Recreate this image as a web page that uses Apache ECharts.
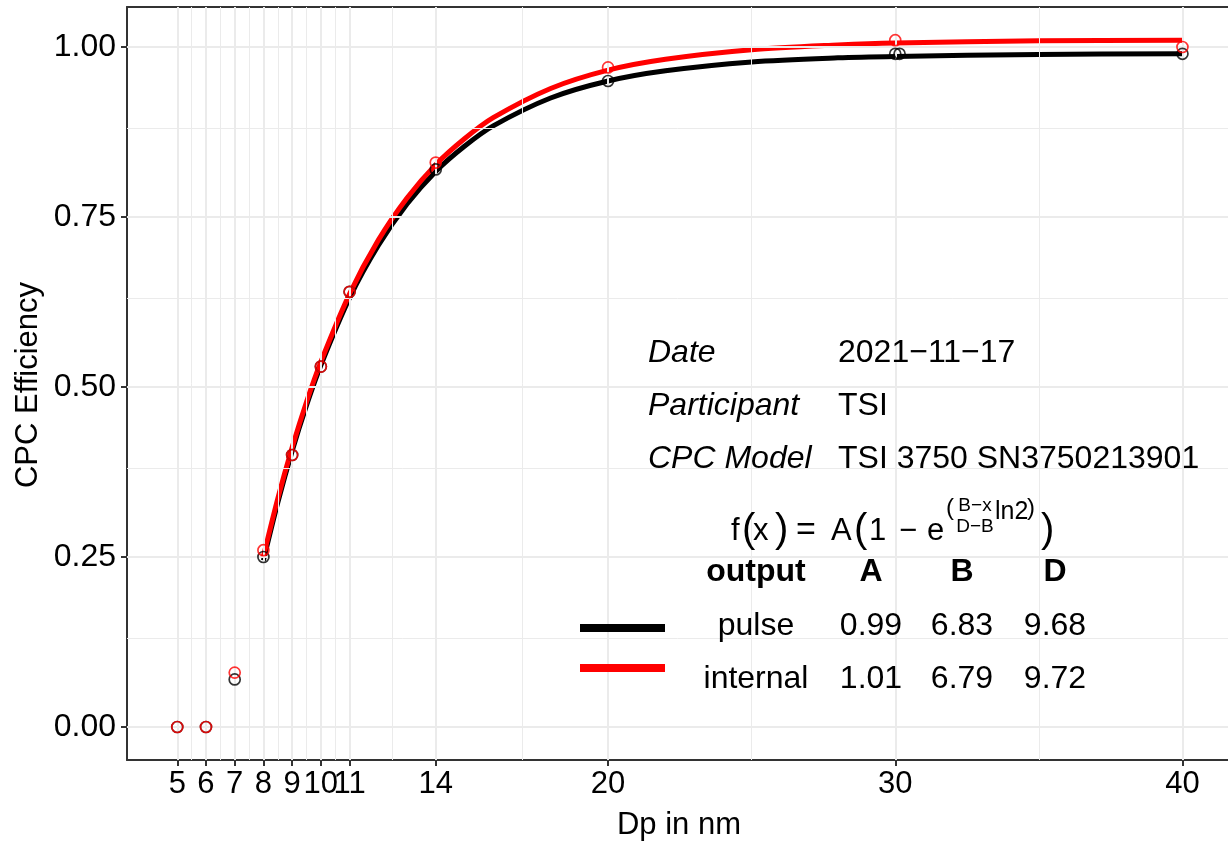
<!DOCTYPE html>
<html>
<head>
<meta charset="utf-8">
<script src="https://cdn.jsdelivr.net/npm/echarts@6/dist/echarts.min.js"></script>
<style>html,body{margin:0;padding:0;background:#fff}#c{width:1228px;height:844px}</style>
</head>
<body>
<div id="c"></div>
<script>
// ---- data ----
const pulseX = [5, 6, 7, 8, 9, 10, 11, 14, 20, 30, 30.15, 40];
const pulseY = [0, 0, 0.07, 0.25, 0.40, 0.53, 0.64, 0.82, 0.95, 0.99, 0.99, 0.99];
const internalX = [5, 6, 7, 8, 9, 10, 11, 14, 20, 30, 40];
const internalY = [0, 0, 0.08, 0.26, 0.40, 0.53, 0.64, 0.83, 0.97, 1.01, 1.00];
const fitX = [8, 8.5, 9, 9.5, 10, 11, 12, 13, 14, 15, 16, 18, 20, 22, 25, 28, 30, 35, 40];
const fitPulse = [0.245, 0.330, 0.406, 0.473, 0.532, 0.631, 0.708, 0.769, 0.817, 0.854, 0.884, 0.925, 0.950, 0.965, 0.978, 0.984, 0.986, 0.989, 0.990];
const fitInternal = [0.251, 0.336, 0.411, 0.478, 0.537, 0.637, 0.716, 0.778, 0.827, 0.865, 0.896, 0.939, 0.966, 0.982, 0.996, 1.003, 1.006, 1.009, 1.010];
const xTicks = [5, 6, 7, 8, 9, 10, 11, 14, 20, 30, 40];
const xMinor = [5.5, 6.5, 7.5, 8.5, 9.5, 10.5, 12.5, 17, 25, 35];
const yTicks = [0, 0.25, 0.5, 0.75, 1.0];
const yMinor = [0.125, 0.375, 0.625, 0.875];
const infoLabels = ['Date', 'Participant', 'CPC Model'];
const infoValues = ['2021\u221211\u221217', 'TSI', 'TSI 3750 SN3750213901'];
const tableHeader = ['output', 'A', 'B', 'D'];
const tableRows = [['pulse', '0.99', '6.83', '9.68'], ['internal', '1.01', '6.79', '9.72']];
const rowColors = ['#000000', '#FF0000'];

const FONT = "'Liberation Sans', Arial, Helvetica, sans-serif";
const zip = (a, b) => a.map((v, i) => [v, b[i]]);
const X_MIN = 3.25, X_MAX = 41.586, Y_MIN = -0.0485, Y_MAX = 1.0588;

const chart = echarts.init(document.getElementById('c'), null, {renderer: 'canvas'});

const gridLines = [];
xTicks.forEach(v => gridLines.push({xAxis: v, lineStyle: {width: 2}}));
xMinor.forEach(v => gridLines.push({xAxis: v, lineStyle: {width: 1}}));
yTicks.forEach(v => gridLines.push({yAxis: v, lineStyle: {width: 2}}));
yMinor.forEach(v => gridLines.push({yAxis: v, lineStyle: {width: 1}}));

function txt(x, y, text, size, opts) {
  opts = opts || {};
  const align = opts.align || 'left';
  return {
    type: 'text', x: x, y: y, rotation: opts.rotation || 0, z: 100, silent: true,
    style: {
      text: text, x: 0, y: 0,
      font: (opts.style || 'normal') + ' ' + (opts.weight || 'normal') + ' ' + size + 'px ' + FONT,
      fill: '#000', align: align, verticalAlign: 'middle',
      textAlign: align, textVerticalAlign: 'middle'
    }
  };
}

const graphics = [];
// axis titles
graphics.push(txt(679, 825, 'Dp in nm', 31, {align: 'center'}));
graphics.push(txt(28, 385, 'CPC Efficiency', 31, {align: 'center', rotation: Math.PI / 2}));
// info block
const infoY = [353, 406, 459];
infoLabels.forEach((l, i) => {
  graphics.push(txt(648, infoY[i], l, 32, {style: 'italic'}));
  graphics.push(txt(838, infoY[i], infoValues[i], 32));
});
// formula
const fy = 531;
graphics.push(txt(731, fy, 'f', 31));
graphics.push(txt(742, fy, '(', 40));
graphics.push(txt(753, fy, 'x', 31));
graphics.push(txt(775, fy, ')', 40));
graphics.push(txt(796, fy, '=', 34));
graphics.push(txt(831, fy, 'A', 31));
graphics.push(txt(854, fy, '(', 40));
graphics.push(txt(869, fy, '1', 31));
graphics.push(txt(899, fy, '\u2212', 31));
graphics.push(txt(927, fy, 'e', 31));
graphics.push(txt(946, 508, '(', 24));
graphics.push(txt(975, 506, 'B\u2212x', 19, {align: 'center'}));
graphics.push(txt(975, 527, 'D\u2212B', 19, {align: 'center'}));
graphics.push(txt(995, 512, 'ln2', 25));
graphics.push(txt(1027, 508, ')', 24));
graphics.push(txt(1041, fy, ')', 40));
// table
const colX = [756, 871, 962, 1055];
tableHeader.forEach((h, i) => graphics.push(txt(colX[i], 572, h, 32, {align: 'center', weight: 'bold'})));
const rowY = [626, 679];
tableRows.forEach((r, j) => {
  r.forEach((c, i) => graphics.push(txt(colX[i], rowY[j], c, 32, {align: 'center'})));
});
const keyY = [628, 668];
rowColors.forEach((col, j) => {
  graphics.push({type: 'line', z: 100, silent: true,
    shape: {x1: 580, y1: keyY[j], x2: 665, y2: keyY[j]},
    style: {stroke: col, lineWidth: 8}});
});

const axisLineStyle = {color: '#333333', width: 2};
const option = {
  animation: false,
  backgroundColor: '#ffffff',
  grid: {left: 127, top: 7, right: 0, height: 753, show: false, containLabel: false},
  xAxis: [{
    type: 'value', min: X_MIN, max: X_MAX, position: 'bottom',
    axisLine: {show: true, onZero: false, lineStyle: axisLineStyle},
    splitLine: {show: false},
    axisTick: {show: true, customValues: xTicks, length: 6, inside: false, lineStyle: axisLineStyle},
    axisLabel: {show: true, customValues: xTicks, margin: 9, color: '#000', fontSize: 31, fontFamily: FONT, formatter: v => String(v)}
  }, {
    type: 'value', min: X_MIN, max: X_MAX, position: 'top',
    axisLine: {show: true, onZero: false, lineStyle: axisLineStyle},
    splitLine: {show: false}, axisTick: {show: false}, axisLabel: {show: false}
  }],
  yAxis: {
    type: 'value', min: Y_MIN, max: Y_MAX,
    axisLine: {show: true, onZero: false, lineStyle: axisLineStyle},
    splitLine: {show: false},
    axisTick: {show: true, customValues: yTicks, length: 6, inside: false, lineStyle: axisLineStyle},
    axisLabel: {show: true, customValues: yTicks, margin: 11, color: '#000', fontSize: 32, fontFamily: FONT, formatter: v => v.toFixed(2)}
  },
  series: [
    {type: 'scatter', data: [], z: 0, silent: true,
     markLine: {silent: true, symbol: ['none', 'none'], label: {show: false}, animation: false,
       lineStyle: {color: '#EBEBEB', type: 'solid'}, emphasis: {disabled: true}, data: gridLines}},
    {name: 'pulse fit', type: 'line', data: zip(fitX, fitPulse), smooth: 0.3, showSymbol: false, symbol: 'none', z: 3,
     lineStyle: {color: '#000000', width: 5}},
    {name: 'internal fit', type: 'line', data: zip(fitX, fitInternal), smooth: 0.3, showSymbol: false, symbol: 'none', z: 4,
     lineStyle: {color: '#FF0000', width: 5}},
    {name: 'pulse', type: 'scatter', data: zip(pulseX, pulseY), symbol: 'circle', symbolSize: 11, z: 5,
     itemStyle: {color: 'rgba(0,0,0,0)', borderColor: '#000000', borderWidth: 1.7}},
    {name: 'internal', type: 'scatter', data: zip(internalX, internalY), symbol: 'circle', symbolSize: 11, z: 6,
     itemStyle: {color: 'rgba(0,0,0,0)', borderColor: '#FF0000', borderWidth: 1.7}}
  ],
  graphic: graphics
};
chart.setOption(option);
</script>
</body>
</html>
